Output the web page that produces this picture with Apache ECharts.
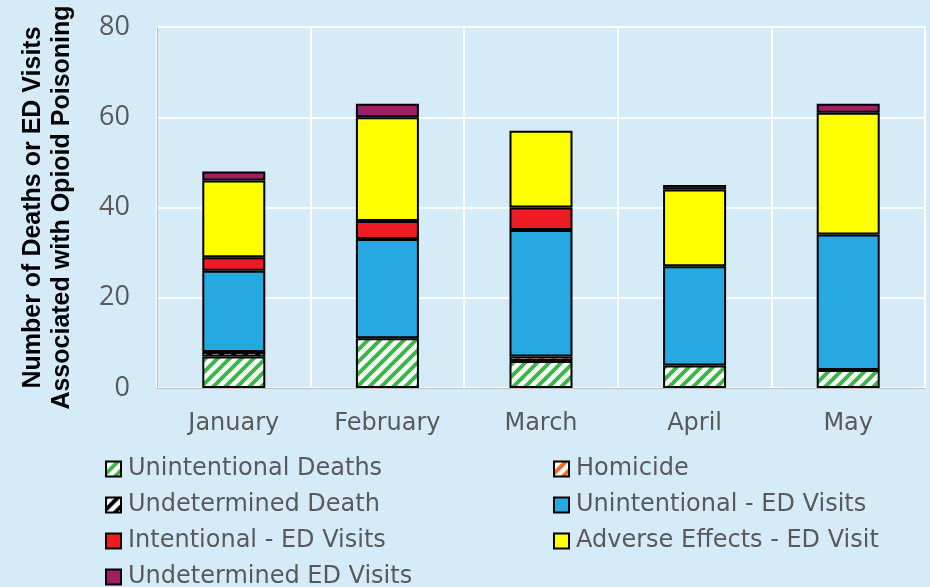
<!DOCTYPE html>
<html>
<head>
<meta charset="utf-8">
<script src="https://cdn.jsdelivr.net/npm/echarts@6/dist/echarts.min.js"></script>
<style>
  html, body { margin: 0; padding: 0; background: #d5ecf8; }
  #chart { width: 930px; height: 587px; }
</style>
</head>
<body>
<div id="chart"></div>
<script>
// data
var months = ['January', 'February', 'March', 'April', 'May'];
var unintDeaths = [7, 11, 6, 5, 4];
var homicide = ['-', '-', 1, '-', '-'];
var undetDeath = [1, '-', '-', '-', '-'];
var unintED = [18, 22, 28, 22, 30];
var intentED = [3, 4, 5, '-', '-'];
var adverseED = [17, 23, 17, 17, 27];
var undetED = [2, 3, '-', 1, 2];
var yTicks = [0, 20, 40, 60, 80];

// hatched fill: white with diagonal stripes
function hatch(col){
    var c = document.createElement('canvas');
    c.width = 12; c.height = 12;
    var g = c.getContext('2d');
    g.fillStyle = '#fff';
    g.fillRect(0, 0, 12, 12);
    g.strokeStyle = col;
    g.lineWidth = 4;
    g.beginPath();
    g.moveTo(-3, 15); g.lineTo(15, -3);
    g.moveTo(-9, 9); g.lineTo(9, -9);
    g.moveTo(3, 21); g.lineTo(21, 3);
    g.stroke();
    return {image: c, repeat: 'repeat'};
}

var chart = echarts.init(document.getElementById('chart'));
var txt = '#595959';
var font = '"DejaVu Sans", sans-serif';

function bar(name, data, fill){
    return {
        name: name, type: 'bar', stack: 'all', data: data,
        barWidth: 63,
        itemStyle: {color: fill, borderColor: '#000', borderWidth: 2},
        emphasis: {disabled: true}
    };
}

var legendText = {color: txt, fontSize: 24, fontFamily: font, lineHeight: 24, padding: [0, 0, 0, 2]};

chart.setOption({
    backgroundColor: '#d5ecf8',
    animation: false,
    grid: {left: 157, right: 5, top: 27, bottom: 199, outerBoundsMode: 'none'},
    legend: [{
        orient: 'vertical', left: 105, top: 457, height: 160, itemGap: 12,
        itemWidth: 15, itemHeight: 15, icon: 'rect', padding: 0,
        textStyle: legendText,
        data: ['Unintentional Deaths', 'Undetermined Death', 'Intentional - ED Visits', 'Undetermined ED Visits']
    }, {
        orient: 'vertical', left: 553, top: 457, height: 160, itemGap: 12,
        itemWidth: 15, itemHeight: 15, icon: 'rect', padding: 0,
        textStyle: legendText,
        data: ['Homicide', 'Unintentional - ED Visits', 'Adverse Effects - ED Visit']
    }],
    xAxis: {
        type: 'category', data: months,
        axisLine: {show: true, lineStyle: {color: '#bfbfbf'}},
        axisTick: {show: false},
        axisLabel: {color: txt, fontSize: 24, fontFamily: font, margin: 24},
        splitLine: {show: true, lineStyle: {color: '#fff', width: 2}}
    },
    yAxis: {
        type: 'value', min: yTicks[0], max: yTicks[yTicks.length - 1], interval: 20,
        name: 'Number of Deaths or ED Visits\nAssociated with Opioid Poisoning',
        nameLocation: 'middle', nameGap: 80, nameRotate: 90,
        nameTextStyle: {color: '#000', fontSize: 25, fontWeight: 'bold', fontFamily: '"Liberation Sans", Arial', lineHeight: 29},
        axisLine: {show: true, lineStyle: {color: '#bfbfbf'}},
        axisTick: {show: false},
        axisLabel: {color: txt, fontSize: 27, fontFamily: '"Open Sans", sans-serif', margin: 27},
        splitLine: {lineStyle: {color: '#fff', width: 2}}
    },
    series: [
        bar('Unintentional Deaths', unintDeaths, hatch('#3db54a')),
        bar('Homicide', homicide, hatch('#f26522')),
        bar('Undetermined Death', undetDeath, hatch('#000')),
        bar('Unintentional - ED Visits', unintED, '#25a9e0'),
        bar('Intentional - ED Visits', intentED, '#ed1c24'),
        bar('Adverse Effects - ED Visit', adverseED, '#ffff00'),
        bar('Undetermined ED Visits', undetED, '#9e1f63')
    ]
});
</script>
</body>
</html>
